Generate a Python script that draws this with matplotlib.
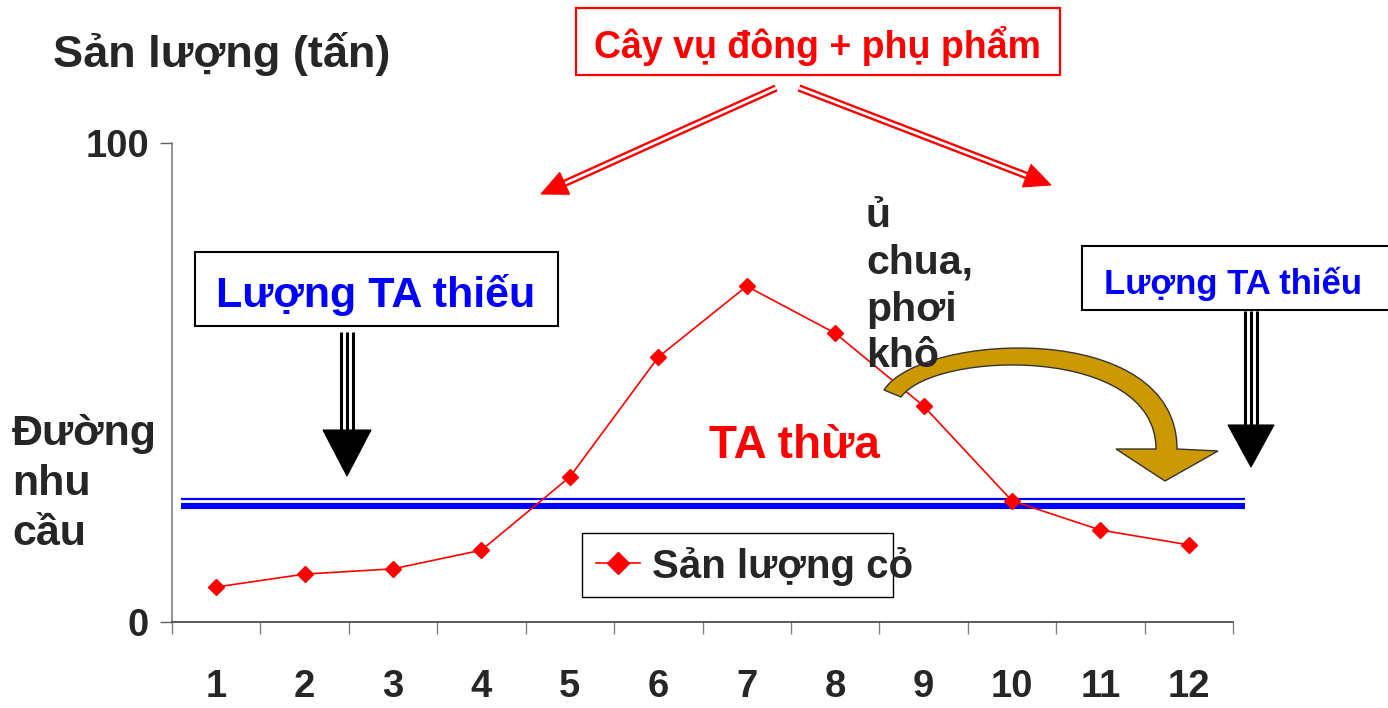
import numpy as np
import matplotlib
matplotlib.use("Agg")
import matplotlib.pyplot as plt
from matplotlib.transforms import Affine2D
from matplotlib.patches import Rectangle, Polygon, PathPatch
from matplotlib.path import Path
from matplotlib.lines import Line2D

# ---------------- data ----------------
months = ["1", "2", "3", "4", "5", "6", "7", "8", "9", "10", "11", "12"]
production = [7.3, 10.0, 11.1, 15.0, 30.3, 55.3, 70.1, 60.3, 45.1, 25.3, 19.2, 16.1]
demand_main = 24.2      # thick blue demand line
demand_edge = 25.7      # thin blue line above it
y_ticks = [0, 100]
y_tick_labels = ["0", "100"]

FONT = "Liberation Sans"
DARK = "#262626"

W, H = 1388, 708
fig = plt.figure(figsize=(W / 100, H / 100), dpi=100)
fig.patch.set_facecolor("white")

# pixel transform (origin top-left) for the slide-style annotations
T = Affine2D().scale(1 / W, -1 / H).translate(0, 1) + fig.transFigure

ax = fig.add_axes([172 / W, (H - 622) / H, (1233 - 172) / W, (622 - 143) / H])
x = np.arange(1, len(months) + 1)
ax.set_xlim(0.5, len(months) + 0.5)
ax.set_ylim(0, 100)

for s in ("top", "right"):
    ax.spines[s].set_visible(False)
ax.spines["left"].set_color("#808080")
ax.spines["left"].set_linewidth(1.2)
ax.spines["bottom"].set_color("#404040")
ax.spines["bottom"].set_linewidth(1.2)

# x: boundary ticks (major, no labels) and centered labels (minor)
ax.set_xticks(np.arange(0.5, len(months) + 1, 1.0))
ax.set_xticklabels([])
ax.tick_params(axis="x", which="major", direction="out", length=8.6,
               width=1.0, color="#808080")
ax.set_xticks(x, minor=True)
ax.set_xticklabels(months, minor=True, fontfamily=FONT, fontweight="bold",
                   fontsize=27.5, color=DARK)
ax.tick_params(axis="x", which="minor", length=0, pad=34)

ax.set_yticks(y_ticks)
ax.set_yticklabels(y_tick_labels, fontfamily=FONT, fontweight="bold",
                   fontsize=27.5, color=DARK)
ax.tick_params(axis="y", direction="out", length=8.6, width=1.0,
               color="#606060", pad=8)

# demand lines
ax.hlines(demand_edge, 0.6, 12.635, colors="#0000FF", linewidth=1.6,
          clip_on=False, zorder=3)
ax.hlines(demand_main, 0.6, 12.635, colors="#0000FF", linewidth=4.4,
          clip_on=False, zorder=3)

# production line
line, = ax.plot(x, production, color="#FF0000", linewidth=1.2, marker="D",
                markersize=8.5, markerfacecolor="#FF0000",
                markeredgecolor="#FF0000", zorder=4, clip_on=False,
                label="Sản lượng cỏ")

# legend (text overflows its frame in the original, so frame drawn separately)
ax.add_patch(Rectangle((582, 533), 311, 64, transform=T, facecolor="white",
                       edgecolor="black", linewidth=1.0, zorder=5,
                       clip_on=False))
leg = ax.legend(handles=[line], loc="center left",
                bbox_to_anchor=(596, 566), bbox_transform=T,
                prop={"family": FONT, "weight": "bold", "size": 29},
                labelcolor=DARK, frameon=False, handlelength=1.1,
                handletextpad=0.3, borderpad=0, markerscale=1.3,
                borderaxespad=0)
leg.set_zorder(6)

# ---------------- annotations ----------------
def txt(xp, yp, s, size, color, ha="left", va="baseline", z=10):
    fig.text(xp, yp, s, transform=T, fontsize=size, fontfamily=FONT,
             fontweight="bold", color=color, ha=ha, va=va, zorder=z)

# axis-like labels
txt(53, 67, "Sản lượng (tấn)", 32.5, DARK)
txt(12, 445, "Đường", 31, DARK)
txt(12, 495, "nhu", 31, DARK)
txt(12, 545, "cầu", 31, DARK)

# top red box
fig.add_artist(Rectangle((576, 8), 484, 67, transform=T, facecolor="white",
                         edgecolor="#FF0000", linewidth=1.6, zorder=8))
txt(818, 42, "Cây vụ đông + phụ phẩm", 27, "#FF0000", ha="center",
    va="center_baseline")


def double_arrow(x0, y0, x1, y1, head_len=26, head_w=24):
    dx, dy = x1 - x0, y1 - y0
    L = np.hypot(dx, dy)
    ux, uy = dx / L, dy / L
    bx, by = x1 - ux * head_len, y1 - uy * head_len
    fig.add_artist(Line2D([x0, bx], [y0, by], transform=T, color="#FF0000",
                          linewidth=5.4, solid_capstyle="butt", zorder=8))
    fig.add_artist(Line2D([x0, bx + ux * 2], [y0, by + uy * 2], transform=T,
                          color="white", linewidth=2.0, solid_capstyle="butt",
                          zorder=8.1))
    px, py = -uy, ux
    fig.add_artist(Polygon([(x1, y1),
                            (bx + px * head_w / 2, by + py * head_w / 2),
                            (bx - px * head_w / 2, by - py * head_w / 2)],
                           closed=True, transform=T, facecolor="#FF0000",
                           edgecolor="#FF0000", linewidth=0.8, zorder=8.2))


double_arrow(776, 88, 541, 194)
double_arrow(799, 88, 1051, 185)

# "Lượng TA thiếu" boxes
fig.add_artist(Rectangle((195, 252), 363, 74, transform=T, facecolor="white",
                         edgecolor="black", linewidth=1.5, zorder=8))
txt(376, 291, "Lượng TA thiếu", 31, "#0000FF", ha="center",
    va="center_baseline")
fig.add_artist(Rectangle((1082, 246), 310, 64, transform=T, facecolor="white",
                         edgecolor="black", linewidth=1.5, zorder=8))
txt(1233, 280, "Lượng TA thiếu", 25, "#0000FF", ha="center",
    va="center_baseline")


def triple_arrow(xc, ytop, ybase, ytip, half_w):
    for off in (-6, 0, 6):
        fig.add_artist(Line2D([xc + off, xc + off], [ytop, ybase + 2],
                              transform=T, color="black", linewidth=2.2,
                              solid_capstyle="butt", zorder=8))
    fig.add_artist(Polygon([(xc - half_w, ybase), (xc + half_w, ybase),
                            (xc, ytip)], closed=True, transform=T,
                           facecolor="black", edgecolor="black",
                           linewidth=0.8, zorder=8.1))


triple_arrow(347, 332, 430, 476, 24)
triple_arrow(1251, 311, 425, 467, 23)

# gold curved arrow
verts = [
    (884, 390),
    (920, 333), (1177, 318), (1177, 449),
    (1218, 451), (1165, 481), (1116, 449), (1156, 449),
    (1156, 345), (935, 350), (901, 397),
    (884, 390),
]
codes = [Path.MOVETO,
         Path.CURVE4, Path.CURVE4, Path.CURVE4,
         Path.LINETO, Path.LINETO, Path.LINETO, Path.LINETO,
         Path.CURVE4, Path.CURVE4, Path.CURVE4,
         Path.CLOSEPOLY]
fig.add_artist(PathPatch(Path(verts, codes), transform=T, facecolor="#CC9900",
                         edgecolor="#333333", linewidth=1.0, zorder=7))

# "ủ chua, phơi khô"
txt(866, 227, "ủ", 29.5, DARK)
txt(866, 274, "chua,", 29.5, DARK)
txt(866, 321, "phơi", 29.5, DARK)
txt(866, 367, "khô", 29.5, DARK)

# "TA thừa"
txt(794, 458, "TA thừa", 33, "#FF0000", ha="center")

fig.savefig("out.png", dpi=100, facecolor="white")
